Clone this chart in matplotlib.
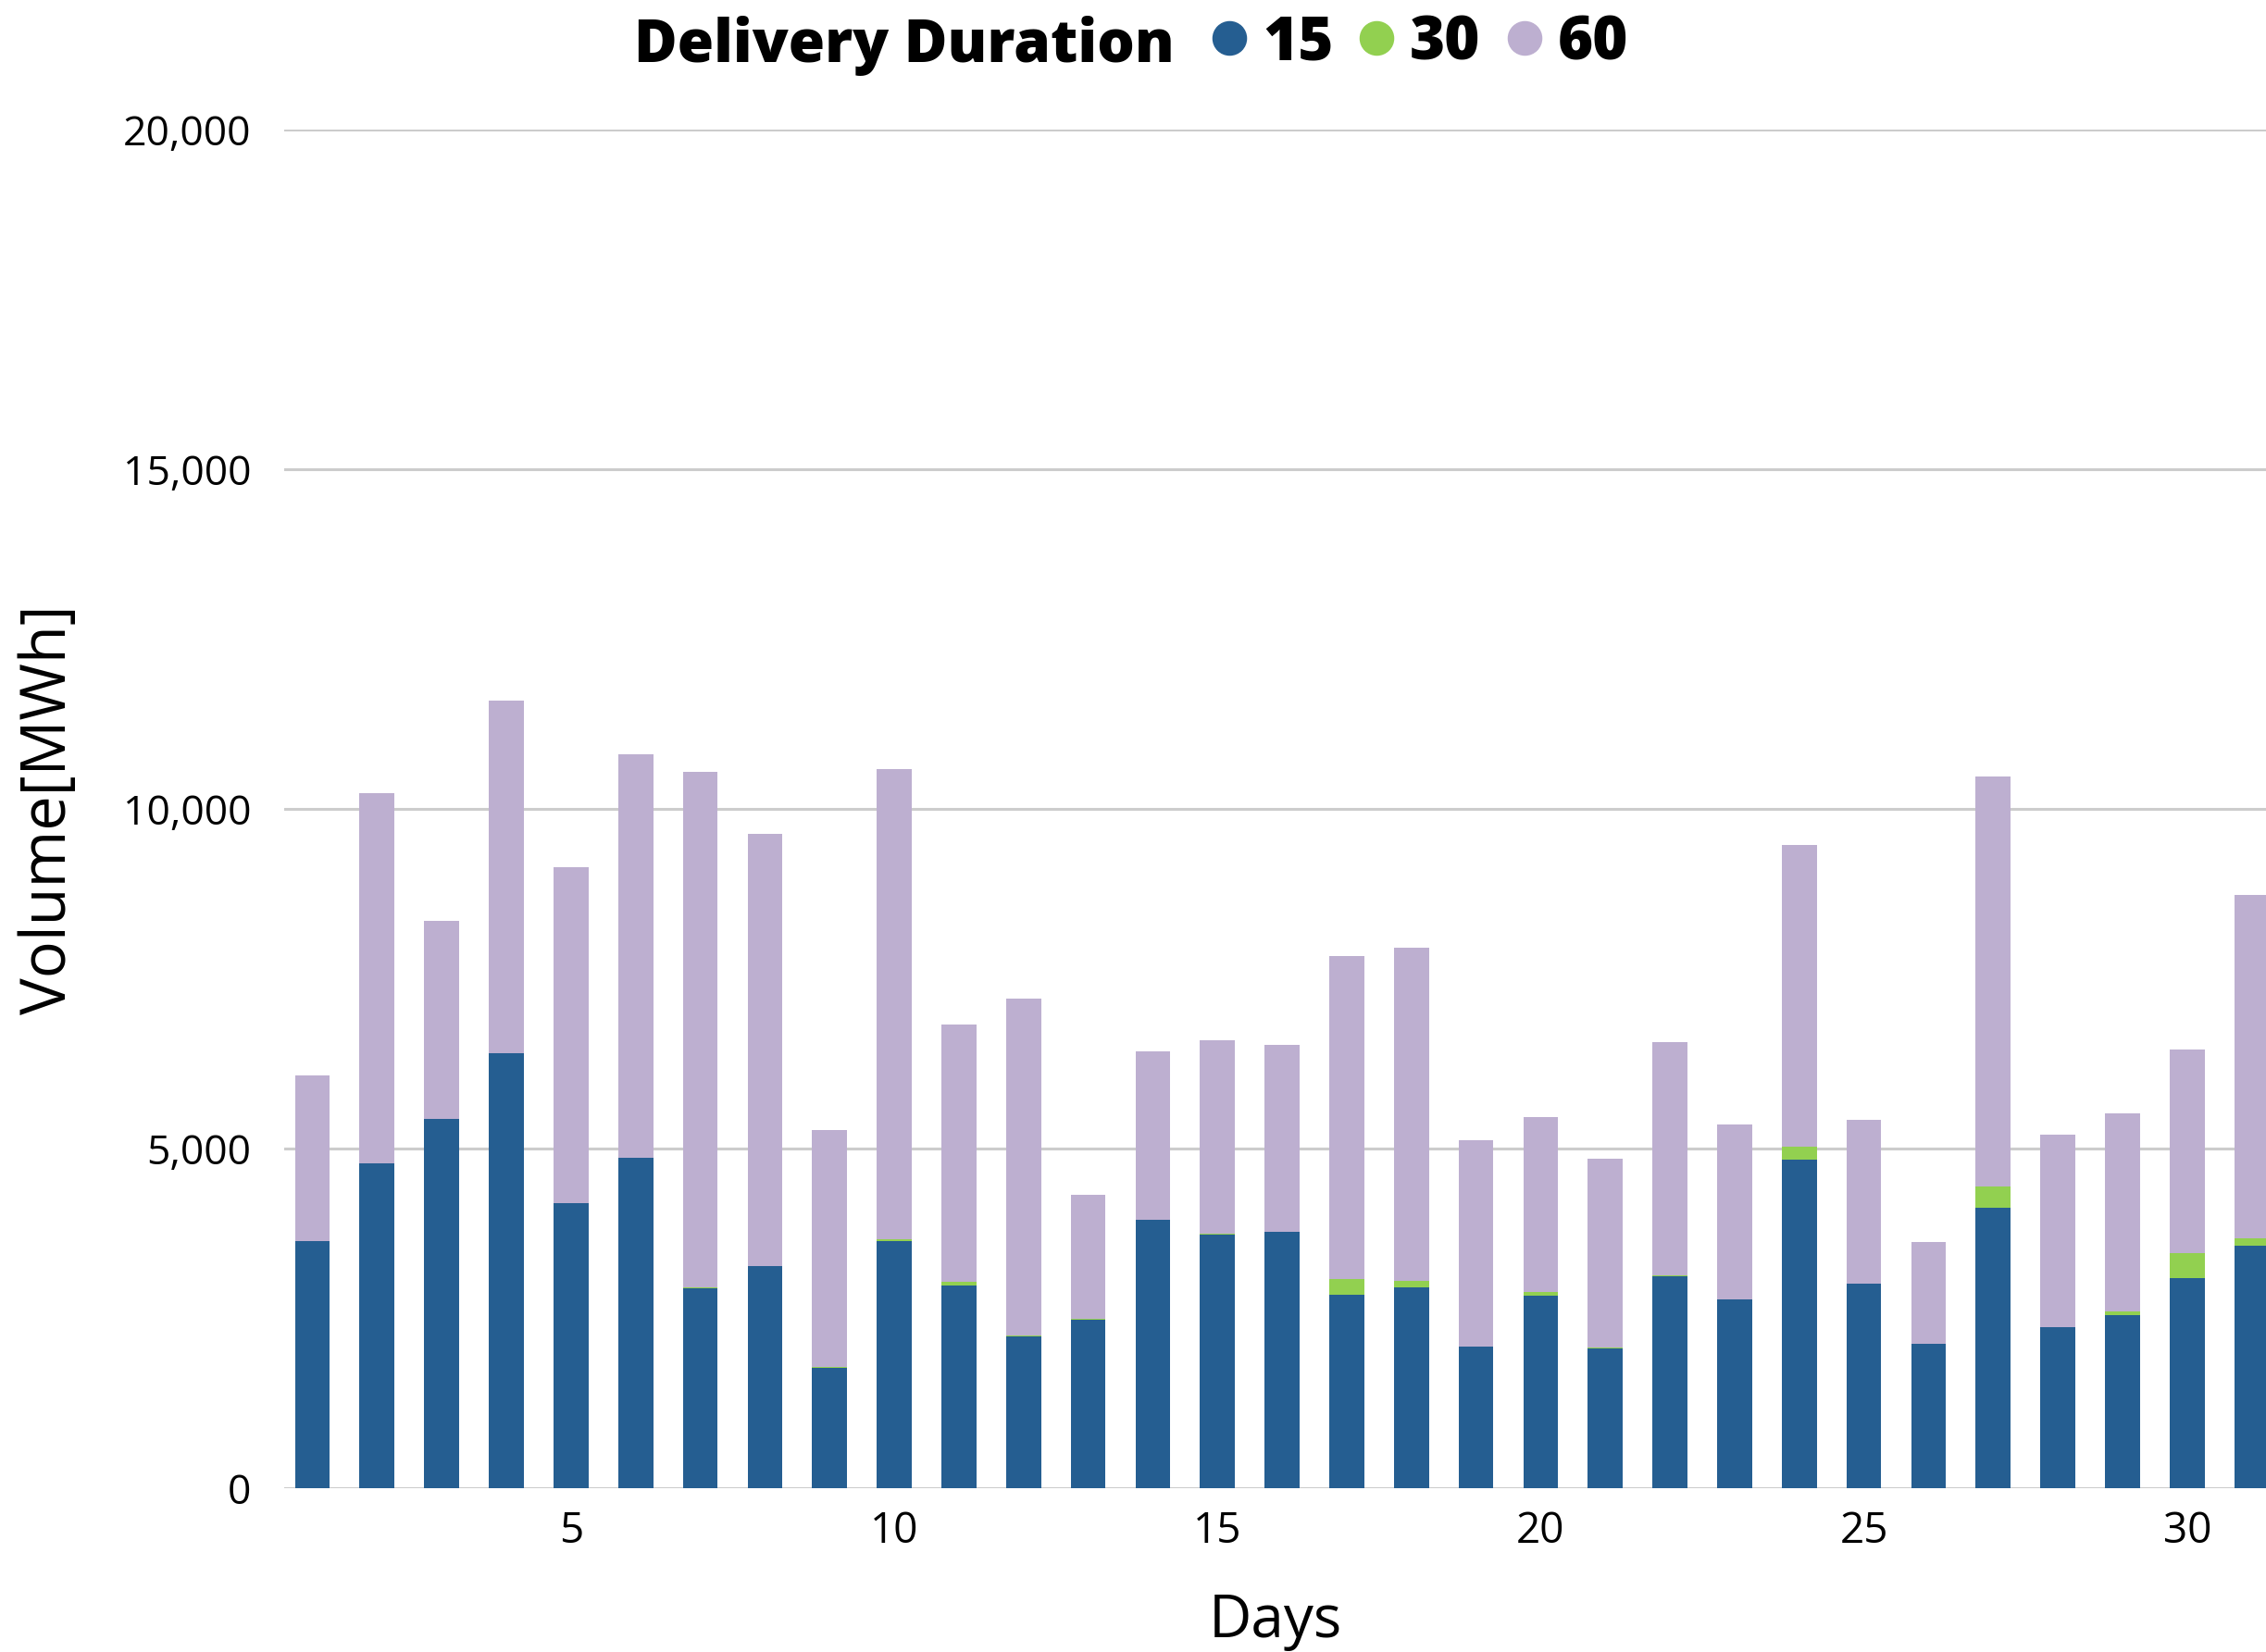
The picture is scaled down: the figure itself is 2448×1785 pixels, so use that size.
import matplotlib.pyplot as plt
from matplotlib.lines import Line2D
from matplotlib.ticker import FuncFormatter
import numpy as np

plt.rcParams['font.family'] = ['Open Sans', 'DejaVu Sans']

# Daily traded volume split by delivery duration (minutes)
days = np.arange(1, 32)
vol_15 = [3639, 4785, 5440, 6403, 4200, 4870, 2952, 3274, 1775, 3638, 2985, 2234, 2485, 3955, 3738, 3787,
          2850, 2960, 2086, 2835, 2062, 3127, 2786, 4840, 3020, 2125, 4140, 2378, 2560, 3095, 3578]
vol_30 = [8, 0, 0, 0, 0, 0, 15, 0, 12, 27, 59, 23, 18, 0, 18, 0,
          230, 95, 0, 55, 14, 14, 0, 195, 0, 0, 303, 0, 43, 375, 108]
vol_60 = [2441, 5451, 2920, 5199, 4948, 5938, 7578, 6371, 3489, 6921, 3782, 4963, 1816, 2485, 2839, 2750,
          4760, 4904, 3044, 2581, 2781, 3435, 2578, 4435, 2402, 1507, 6044, 2833, 2917, 2997, 5059]
durations = ['15', '30', '60']
colors = ['#255E91', '#92D050', '#BDAFD0']

fig = plt.figure(figsize=(24.48, 17.85), dpi=100)
ax = fig.add_axes([0.1256, 0.0989, 0.8744, 0.8224])

width = 0.54
bottom = np.zeros(len(days))
for vals, c in zip([vol_15, vol_30, vol_60], colors):
    ax.bar(days, vals, width, bottom=bottom, color=c, zorder=3)
    bottom += np.array(vals)

ax.set_xlim(0.57, 31.22)
ax.set_ylim(0, 20000)
ax.set_yticks(np.arange(0, 20001, 5000))
ax.set_xticks([5, 10, 15, 20, 25, 30])
ax.yaxis.set_major_formatter(FuncFormatter(lambda v, p: f'{int(v):,}'))
ax.grid(axis='y', color='#CCCCCC', linewidth=2.2, zorder=0)
ax.grid(axis='x', visible=False)
for s in ax.spines.values():
    s.set_visible(False)
ax.tick_params(axis='both', length=0)
ax.tick_params(axis='y', labelsize=32, pad=26)
ax.tick_params(axis='x', labelsize=33, pad=17)

ax.set_xlabel('Days', fontsize=46)
ax.set_ylabel('Volume[MWh]', fontsize=48)
ax.xaxis.set_label_coords(0.5, -0.076)
ax.yaxis.set_label_coords(-0.103, 0.5)

# legend across the top: bold title followed by coloured dots
fig.text(0.5184, 0.9725, 'Delivery Duration', fontsize=46, fontweight='heavy',
         ha='right', va='center')
handles = [Line2D([], [], marker='o', linestyle='none', markersize=26,
                  markerfacecolor=c, markeredgecolor=c) for c in colors]
leg = fig.legend(handles, durations, loc='center left', bbox_to_anchor=(0.5345, 0.9735),
                 ncol=3, frameon=False, handlelength=0.6, handletextpad=0.25,
                 columnspacing=0.42, borderpad=0, borderaxespad=0,
                 prop={'size': 47, 'weight': 'heavy'})

fig.savefig('out.png', dpi=100)
